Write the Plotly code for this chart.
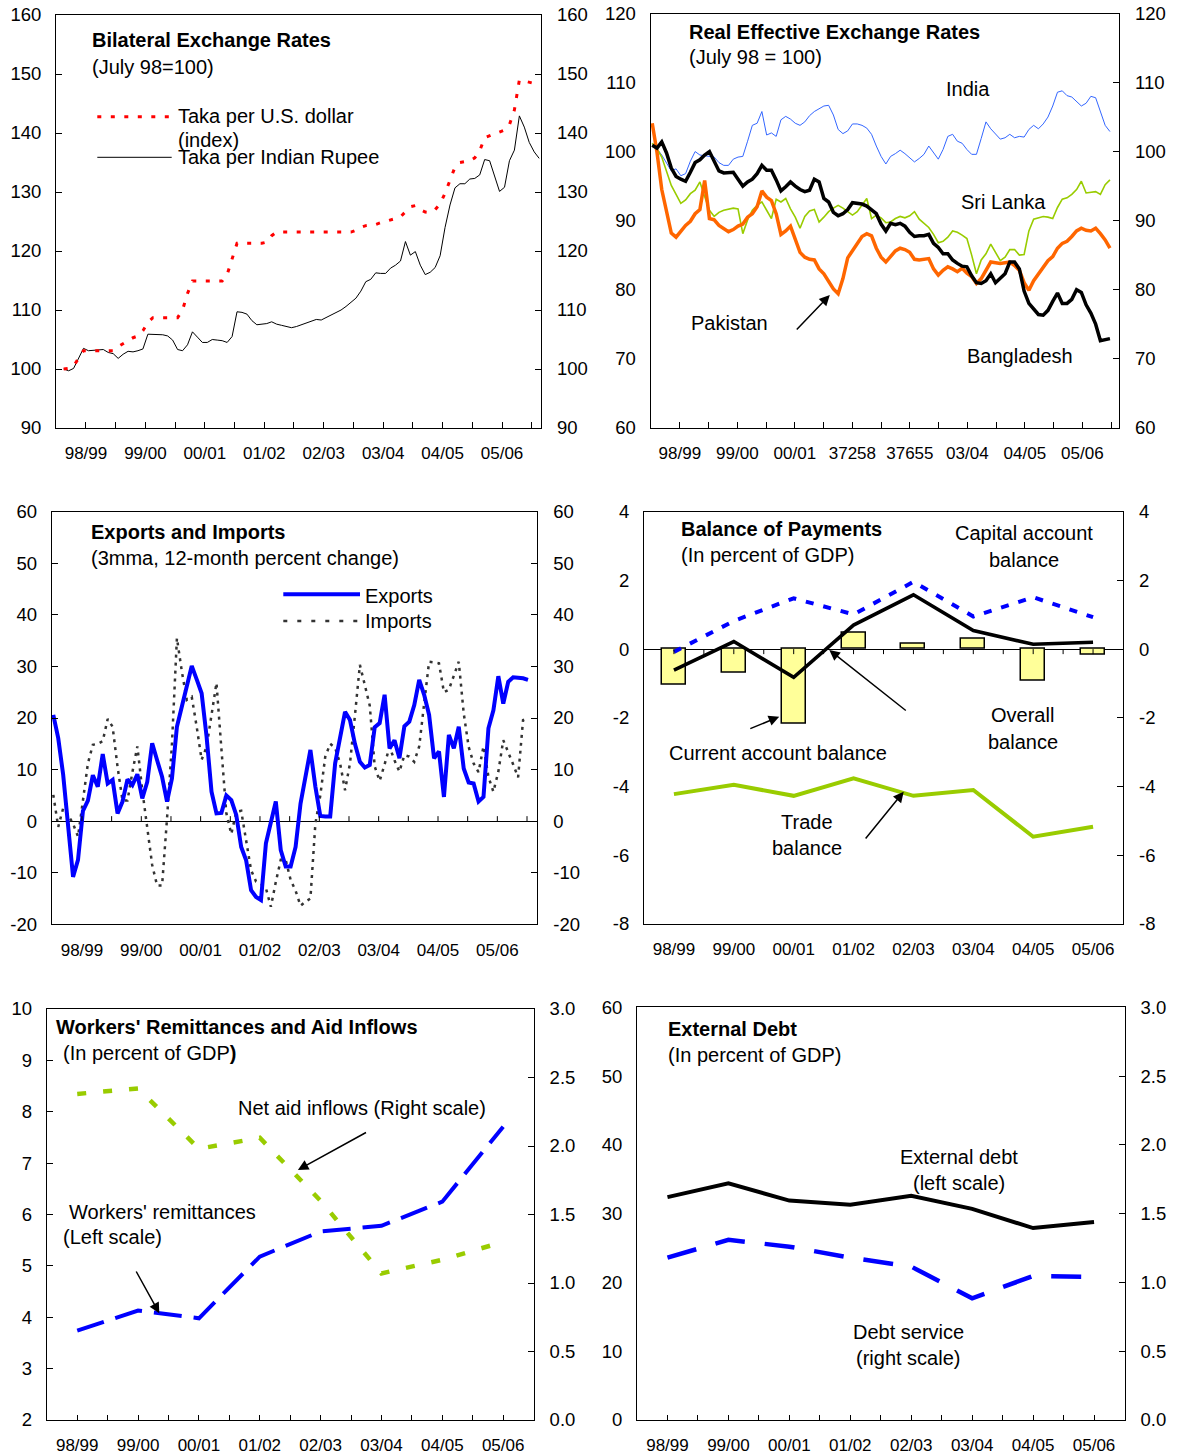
import plotly.graph_objects as go

W, H = 1181, 1456
FONT = "Liberation Sans, Arial, sans-serif"

# ---------------- data ----------------
months = list(range(97))  # monthly index, July 1998 onwards
year_labels = ["98/99", "99/00", "00/01", "01/02", "02/03", "03/04", "04/05", "05/06"]
reer_labels = ["98/99", "99/00", "00/01", "37258", "37655", "03/04", "04/05", "05/06"]
fiscal_years = ["98/99", "99/00", "00/01", "01/02", "02/03", "03/04", "04/05", "05/06"]

taka_usd = [100.0, 100.1, 100.5, 101.8, 103.1, 103.1, 103.1, 103.1, 103.1, 103.1,
            103.1, 103.8, 104.3, 104.9, 105.3, 105.6, 106.5, 107.9, 108.7, 108.7,
            108.7, 108.7, 108.7, 108.7, 110.0, 112.8, 114.9, 114.9, 114.9, 114.9,
            114.9, 114.9, 114.9, 116.0, 118.5, 121.3, 121.3, 121.3, 121.3, 121.3,
            121.3, 121.5, 122.6, 123.2, 123.2, 123.2, 123.2, 123.2, 123.2, 123.2,
            123.2, 123.2, 123.2, 123.2, 123.2, 123.2, 123.2, 123.2, 123.2, 123.5,
            124.0, 124.3, 124.4, 124.5, 124.8, 125.0, 125.3, 125.5, 125.8, 126.7,
            127.5, 127.7, 127.0, 126.6, 126.5, 127.0, 128.0, 129.8, 132.0, 134.2,
            135.0, 135.1, 135.3, 135.8, 137.0, 139.2, 139.5, 139.8, 140.1, 140.5,
            141.4, 143.9, 149.0, 148.8, 148.6, 148.3, 148.2]
taka_inr = [100.0, 99.7, 100.1, 101.8, 103.5, 103.1, 103.2, 103.3, 103.3, 102.8,
            102.6, 101.8, 102.5, 103.0, 102.9, 103.1, 103.4, 105.9, 105.9, 105.8,
            105.8, 105.6, 104.9, 103.3, 103.1, 104.1, 106.3, 105.4, 104.5, 104.5,
            105.0, 104.9, 104.8, 104.5, 105.5, 109.7, 109.6, 109.3, 108.2, 107.5,
            107.6, 107.7, 108.0, 107.6, 107.4, 107.2, 107.0, 107.2, 107.5, 107.8,
            108.2, 108.4, 108.3, 108.7, 109.1, 109.6, 110.0, 110.6, 111.3, 112.0,
            113.2, 114.8, 115.2, 116.3, 116.2, 116.2, 117.1, 117.6, 118.3, 121.6,
            119.3, 119.9, 117.6, 116.0, 116.4, 117.2, 119.2, 124.0, 127.8, 130.7,
            131.4, 131.4, 132.2, 132.3, 132.9, 135.5, 135.3, 132.8, 130.1, 130.8,
            135.3, 137.1, 142.9, 141.0, 138.4, 136.8, 135.7]

reer_bangladesh = [100.9, 100.5, 101.4, 99.8, 97.6, 96.4, 96.0, 95.7, 97.0, 98.4,
                   98.8, 99.5, 100.0, 98.5, 97.2, 96.9, 96.9, 97.0, 96.0, 95.0,
                   95.6, 96.0, 96.8, 98.0, 97.3, 97.3, 95.9, 94.3, 94.9, 95.6,
                   95.0, 94.5, 94.2, 94.4, 96.0, 95.6, 93.2, 92.7, 91.2, 90.7,
                   91.0, 91.6, 92.6, 92.5, 92.4, 92.1, 91.5, 91.0, 89.5, 88.5,
                   89.6, 89.4, 89.6, 89.2, 88.3, 87.7, 87.8, 87.8, 88.0, 86.7,
                   86.1, 85.2, 85.2, 84.3, 83.8, 83.4, 83.3, 82.0, 81.0, 80.9,
                   81.3, 82.3, 81.0, 81.6, 82.3, 84.0, 84.0, 83.0, 79.8, 78.0,
                   77.2, 76.4, 76.3, 77.0, 78.3, 79.5, 78.0, 78.0, 78.6, 80.0,
                   79.6, 77.8, 76.6, 75.0, 72.6, 72.7, 72.9]
reer_pakistan = [104.1, 99.9, 94.5, 91.2, 88.2, 87.6, 88.4, 89.3, 89.9, 91.0,
                 91.6, 95.8, 90.3, 90.1, 89.3, 88.8, 88.4, 88.7, 89.2, 89.5,
                 90.5, 91.0, 92.0, 94.3, 93.4, 92.9, 91.0, 88.0, 88.5, 89.2,
                 87.4, 85.4, 84.7, 84.4, 84.3, 83.0, 82.3, 81.2, 80.1, 79.4,
                 81.6, 84.6, 85.6, 86.8, 87.7, 88.1, 87.8, 86.0, 84.7, 84.0,
                 84.8, 85.6, 86.0, 85.8, 85.4, 84.4, 84.3, 84.4, 84.5, 83.0,
                 82.1, 82.8, 83.3, 83.0, 82.6, 83.1, 82.4, 81.9, 80.9, 81.6,
                 82.8, 84.0, 83.9, 83.8, 83.9, 84.0, 83.5, 82.8, 81.0, 79.9,
                 81.3, 82.2, 83.2, 84.2, 84.8, 86.0, 86.7, 87.0, 87.7, 88.5,
                 88.9, 88.6, 88.5, 88.9, 88.1, 87.2, 86.0]
reer_srilanka = [101.2, 100.4, 99.2, 97.1, 95.1, 93.8, 92.5, 93.0, 93.9, 94.4,
                 95.6, 93.5, 91.5, 90.6, 91.2, 91.5, 91.6, 91.8, 91.7, 88.1,
                 90.1, 91.5, 92.2, 92.7, 91.5, 90.3, 93.1, 92.7, 93.2, 91.7,
                 90.5, 88.9, 90.6, 91.4, 91.6, 89.8, 90.5, 91.3, 91.8, 92.2,
                 91.8, 91.3, 90.8, 91.3, 92.2, 93.2, 90.3, 90.8, 90.4, 89.7,
                 89.8, 90.3, 90.6, 90.4, 90.7, 91.3, 90.2, 89.6, 89.0, 88.0,
                 86.8, 87.0, 87.6, 88.5, 88.3, 87.9, 87.4, 85.0, 82.3, 84.3,
                 85.2, 86.6, 85.3, 84.2, 84.7, 85.8, 85.8, 85.0, 85.1, 88.5,
                 90.2, 90.4, 90.6, 90.5, 90.3, 91.9, 93.1, 93.3, 93.8, 94.5,
                 95.7, 94.0, 94.1, 94.2, 93.8, 95.2, 95.9]
reer_india = [100.9, 100.4, 99.5, 98.3, 97.2, 97.5, 96.5, 96.8, 98.6, 100.0,
              99.5, 99.4, 99.3, 99.2, 98.4, 98.0, 98.0, 98.9, 99.2, 99.3,
              101.5, 103.8, 104.1, 105.8, 102.4, 102.7, 102.2, 104.6, 105.1, 104.7,
              104.1, 103.8, 104.3, 105.2, 105.8, 106.2, 106.6, 106.7, 105.3, 103.2,
              102.6, 103.0, 104.0, 104.0, 103.8, 103.4, 102.5, 100.8, 99.3, 98.2,
              99.3, 99.7, 100.2, 99.7, 99.1, 98.5, 99.0, 99.6, 100.8, 99.8,
              98.9, 100.3, 102.2, 102.5, 101.5, 101.2, 100.3, 99.6, 99.6, 101.9,
              104.3, 103.3, 102.6, 101.8, 102.0, 102.5, 102.0, 102.2, 102.1, 103.2,
              103.8, 103.3, 104.0, 105.0, 106.6, 108.6, 108.8, 108.1, 107.9, 107.3,
              106.6, 107.0, 108.0, 107.8, 105.7, 103.8, 102.9]

exports = [20.6, 16.1, 9.0, 0.0, -10.8, -7.5, 2.0, 4.0, 8.9, 6.7,
           13.0, 7.3, 8.0, 1.5, 3.8, 8.1, 7.0, 9.1, 4.4, 7.6,
           15.1, 11.8, 8.6, 3.8, 8.3, 18.3, 22.5, 26.0, 30.1, 27.5,
           24.8, 16.4, 5.7, 1.5, 1.6, 5.0, 4.1, 1.2, -5.0, -7.6,
           -13.4, -14.7, -15.3, -4.3, -0.1, 3.8, -5.6, -8.8, -8.8, -5.0,
           3.4, 8.5, 13.8, 6.7, 1.0, 0.9, 0.9, 11.2, 16.0, 21.2,
           19.6, 15.0, 11.5, 10.4, 10.9, 18.2, 19.0, 24.5, 14.1, 15.7,
           12.2, 18.4, 19.3, 22.5, 27.4, 24.5, 20.6, 12.2, 13.5, 4.7,
           16.7, 14.1, 18.3, 10.2, 7.5, 7.3, 3.8, 4.7, 18.0, 21.5,
           28.1, 22.8, 27.0, 27.9, 27.8, 27.7, 27.4]
imports = [5.1, -1.1, 2.5, 1.2, -0.5, -3.0, 4.0, 11.2, 14.8, 15.0,
           15.5, 19.8, 18.3, 10.5, 4.0, 4.0, 9.5, 14.5, 6.0, -1.5,
           -8.5, -12.5, -12.5, 0.5, 15.0, 35.5, 29.0, 23.5, 24.1, 18.3,
           11.9, 14.4, 20.9, 26.8, 14.0, 1.5, -2.5, 1.8, 2.0, -4.0,
           -9.5, -11.7, -12.2, -13.0, -16.6, -11.8, -7.5, -7.5, -11.4, -13.5,
           -16.4, -15.6, -15.0, -0.5, 5.0, 12.5, 15.0, 14.2, 11.2, 6.0,
           11.2, 20.5, 30.3, 26.4, 22.4, 10.6, 7.8, 11.0, 14.4, 11.8,
           9.6, 12.8, 12.5, 11.5, 14.5, 22.8, 30.9, 30.8, 30.6, 25.0,
           25.5, 28.2, 30.9, 20.9, 14.4, 11.2, 9.5, 14.5, 8.6, 5.7,
           9.6, 15.7, 13.5, 11.0, 8.5, 19.6, 20.0]

current_account = [-1.04, -0.70, -2.16, 0.49, 0.15, 0.30, -0.92, -0.15]
overall_balance = [-0.61, 0.22, -0.82, 0.70, 1.58, 0.54, 0.14, 0.20]
capital_account = [-0.08, 0.82, 1.48, 1.01, 1.96, 0.95, 1.51, 0.93]
trade_balance = [-4.22, -3.95, -4.27, -3.76, -4.27, -4.10, -5.46, -5.17]

remittances = [3.74, 4.13, 3.98, 5.18, 5.67, 5.78, 6.25, 7.71]
net_aid = [2.38, 2.42, 1.98, 2.06, 1.60, 1.07, 1.17, 1.30]

external_debt = [32.4, 34.4, 31.9, 31.3, 32.6, 30.7, 27.9, 28.8]
debt_service = [1.18, 1.31, 1.26, 1.18, 1.115, 0.885, 1.047, 1.04]

p1_yticks = [90, 100, 110, 120, 130, 140, 150, 160]
p2_yticks = [60, 70, 80, 90, 100, 110, 120]
p3_yticks = [-20, -10, 0, 10, 20, 30, 40, 50, 60]
p4_yticks = [-8, -6, -4, -2, 0, 2, 4]
p5_left_ticks = [2, 3, 4, 5, 6, 7, 8, 9, 10]
pct_right_ticks = [0.0, 0.5, 1.0, 1.5, 2.0, 2.5, 3.0]
p6_left_ticks = [0, 10, 20, 30, 40, 50, 60]

# ---------------- helpers ----------------
def xd(l, r):
    return [l / W, r / W]

def yd(t, b):
    return [1 - b / H, 1 - t / H]

def px(x):
    return x / W

def py(y):
    return 1 - y / H

def txt(vals, fmt=None):
    return [(fmt.format(v) if fmt else str(v)) for v in vals]

base = dict(showgrid=False, zeroline=False, showline=True, linecolor="black", linewidth=1,
            mirror=True, tickcolor="black", tickwidth=1, ticklen=6, automargin=False)
xfont = dict(family=FONT, size=17, color="black")
yfont = dict(family=FONT, size=18.5, color="black")


def xaxis(dom, rng, vals, texts, anchor, ticks="inside", ticklen=6):
    return dict(base, domain=dom, range=rng, tickvals=vals, ticktext=texts, ticks=ticks,
                ticklen=ticklen, anchor=anchor, tickfont=xfont, ticklabelstandoff=10, tickangle=0)


def yleft(dom, rng, vals, texts, anchor, ticks="inside", zero=False):
    return dict(base, domain=dom, range=rng, tickvals=vals, ticktext=texts, ticks=ticks,
                anchor=anchor, tickfont=yfont, ticklabelstandoff=10, zeroline=zero,
                zerolinecolor="black", zerolinewidth=1)


def yright(over, rng, vals, texts, anchor):
    return dict(showgrid=False, zeroline=False, showline=False, overlaying=over, side="right",
                anchor=anchor, range=rng, tickvals=vals, ticktext=texts, ticks="inside",
                ticklen=6, tickcolor="black", tickfont=yfont, ticklabelstandoff=15,
                automargin=False)


fig = go.Figure()

def line(x, y, xa, ya, color, width, dash="solid"):
    fig.add_trace(go.Scatter(x=x, y=y, xaxis=xa, yaxis=ya, mode="lines",
                             line=dict(color=color, width=width, dash=dash),
                             hoverinfo="skip", showlegend=False))

def ghost(x, y, xa, ya):
    fig.add_trace(go.Scatter(x=x, y=y, xaxis=xa, yaxis=ya, mode="lines", opacity=0,
                             line=dict(width=0), hoverinfo="skip", showlegend=False))

cats = list(range(len(fiscal_years)))

# Panel 1
line(months, taka_inr, "x", "y", "black", 1)
line(months, taka_usd, "x", "y", "#FF0000", 3, "4px,9.5px")
ghost(months, taka_usd, "x", "y7")
# Panel 2
line(months, reer_india, "x2", "y2", "#3366FF", 1)
line(months, reer_srilanka, "x2", "y2", "#99CC00", 1.6)
line(months, reer_pakistan, "x2", "y2", "#FF6600", 3.5)
line(months, reer_bangladesh, "x2", "y2", "black", 3.5)
ghost(months, reer_india, "x2", "y8")
# Panel 3
line(months, imports, "x3", "y3", "#333333", 2.5, "3px,5px")
line(months, exports, "x3", "y3", "#0000FF", 4)
ghost(months, exports, "x3", "y9")
# Panel 4
fig.add_trace(go.Bar(x=cats, y=current_account, xaxis="x4", yaxis="y4", width=0.4,
                     marker=dict(color="#FFFF99", line=dict(color="black", width=1.5)),
                     hoverinfo="skip", showlegend=False))
line(cats, capital_account, "x4", "y4", "#0000FF", 4, "8px,10px")
line(cats, overall_balance, "x4", "y4", "black", 3.5)
line(cats, trade_balance, "x4", "y4", "#99CC00", 4)
ghost(cats, trade_balance, "x4", "y10")
# Panel 5
line(cats, remittances, "x5", "y5", "#0000FF", 4, "28px,12px")
line(cats, net_aid, "x5", "y11", "#99CC00", 4.5, "9px,17px")
# Panel 6
line(cats, external_debt, "x6", "y6", "black", 4)
line(cats, debt_service, "x6", "y12", "#0000FF", 4.5, "30px,20px")

# ---------------- axes ----------------
p1_dom = (xd(56, 541), yd(15, 428))
p2_dom = (xd(650.5, 1119), yd(13.5, 427.7))
p3_dom = (xd(51.7, 537.3), yd(511.7, 924.3))
p4_dom = (xd(644, 1123), yd(511.7, 924))
p5_dom = (xd(46.8, 533.6), yd(1009, 1420))
p6_dom = (xd(637, 1124.5), yd(1007.3, 1420))

p1_tv = [4.5 + 6 * k for k in range(16)]
p2_tv = [5.8 + 6.03 * k for k in range(16)]
half_tt = lambda labels: [labels[k // 2] if k % 2 == 0 else "" for k in range(16)]
p3_tv = [5.8 + 6 * k for k in range(16)]
cat_tv = [0.5 * k for k in range(15)]
cat_tt = [fiscal_years[k // 2] if k % 2 == 0 else "" for k in range(15)]

layout = dict(template="none", width=W, height=H, margin=dict(l=0, r=0, t=0, b=0, pad=0),
              autosize=False,
              paper_bgcolor="white", plot_bgcolor="white", showlegend=False,
              font=dict(family=FONT, color="black", size=20), bargap=0)

layout["xaxis"] = xaxis(p1_dom[0], [-1.55, 96.37], p1_tv, half_tt(year_labels), "y")
layout["yaxis"] = yleft(p1_dom[1], [90, 160], p1_yticks, txt(p1_yticks), "x")
layout["yaxis7"] = yright("y", [90, 160], p1_yticks, txt(p1_yticks), "x")

layout["xaxis2"] = xaxis(p2_dom[0], [-0.36, 97.9], p2_tv, half_tt(reer_labels), "y2")
layout["yaxis2"] = yleft(p2_dom[1], [60, 120], p2_yticks, txt(p2_yticks), "x2", ticks="")
layout["yaxis8"] = yright("y2", [60, 120], p2_yticks, txt(p2_yticks), "x2")

layout["xaxis3"] = xaxis(p3_dom[0], [-0.32, 97.88], [5.8 + 12 * k for k in range(8)],
                         year_labels, "y3", ticks="")
layout["yaxis3"] = yleft(p3_dom[1], [-20, 60], p3_yticks, txt(p3_yticks), "x3", zero=True)
layout["yaxis9"] = yright("y3", [-20, 60], p3_yticks, txt(p3_yticks), "x3")

layout["xaxis4"] = xaxis(p4_dom[0], [-0.5, 7.5], cats, fiscal_years, "y4", ticks="")
layout["yaxis4"] = yleft(p4_dom[1], [-8, 4], p4_yticks, txt(p4_yticks), "x4", ticks="", zero=True)
layout["yaxis10"] = yright("y4", [-8, 4], p4_yticks, txt(p4_yticks), "x4")

layout["xaxis5"] = xaxis(p5_dom[0], [-0.5, 7.5], cat_tv, cat_tt, "y5", ticklen=5)
layout["yaxis5"] = yleft(p5_dom[1], [2, 10], p5_left_ticks, txt(p5_left_ticks), "x5")
layout["yaxis11"] = yright("y5", [0, 3], pct_right_ticks, txt(pct_right_ticks, "{:.1f}"), "x5")

layout["xaxis6"] = xaxis(p6_dom[0], [-0.5, 7.5], cat_tv, cat_tt, "y6", ticklen=5)
layout["yaxis6"] = yleft(p6_dom[1], [0, 60], p6_left_ticks, txt(p6_left_ticks), "x6", ticks="")
layout["yaxis12"] = yright("y6", [0, 3], pct_right_ticks, txt(pct_right_ticks, "{:.1f}"), "x6")

# ---------------- shapes ----------------
shapes = []
# legend samples
shapes.append(dict(type="line", xref="paper", yref="paper", x0=px(97.3), x1=px(171.7),
                   y0=py(116.7), y1=py(116.7), line=dict(color="#FF0000", width=3, dash="4px,9.5px")))
shapes.append(dict(type="line", xref="paper", yref="paper", x0=px(97.3), x1=px(171.7),
                   y0=py(157.3), y1=py(157.3), line=dict(color="black", width=1)))
shapes.append(dict(type="line", xref="paper", yref="paper", x0=px(283.3), x1=px(360),
                   y0=py(594.3), y1=py(594.3), line=dict(color="#0000FF", width=4)))
shapes.append(dict(type="line", xref="paper", yref="paper", x0=px(283.3), x1=px(360),
                   y0=py(621), y1=py(621), line=dict(color="#333333", width=2.5, dash="4px,10px")))
# tick marks on zero lines
u3 = 5 * 80 / (924.3 - 511.7)
for t in p3_tv:
    shapes.append(dict(type="line", xref="x3", yref="y3", x0=t, x1=t, y0=0, y1=u3,
                       line=dict(color="black", width=1)))
u4 = 5 * 12 / (924 - 511.7)
for t in cat_tv:
    shapes.append(dict(type="line", xref="x4", yref="y4", x0=t, x1=t, y0=0, y1=-u4,
                       line=dict(color="black", width=1)))
layout["shapes"] = shapes

# ---------------- annotations ----------------
ann = []

def label(text, x, y, anchor="left", size=20):
    ann.append(dict(text=text, x=px(x), y=py(y), xref="paper", yref="paper", showarrow=False,
                    xanchor=anchor, yanchor="middle", font=dict(family=FONT, size=size, color="black")))

def arrow(hx, hy, tx, ty):
    ann.append(dict(text="", x=px(hx), y=py(hy), xref="paper", yref="paper", showarrow=True,
                    ax=tx - hx, ay=ty - hy, arrowhead=2, arrowsize=1.4, arrowwidth=1.5,
                    arrowcolor="black", standoff=0))

label("<b>Bilateral Exchange Rates</b>", 89.5, 40)
label("(July 98=100)", 89.5, 66.7)
label("Taka per U.S. dollar", 176, 116)
label("(index)", 176, 140)
label("Taka per Indian Rupee", 176, 156.7)

label("<b>Real Effective Exchange Rates</b>", 686.5, 31.7)
label("(July 98 = 100)", 686.5, 57.3)
label("India", 968.3, 89.3, "center")
label("Sri Lanka", 1003.5, 201.7, "center")
label("Pakistan", 729.7, 322.7, "center")
label("Bangladesh", 1020, 356, "center")
arrow(829.8, 295, 795.3, 331)

label("<b>Exports and Imports</b>", 88.5, 531.7)
label("(3mma, 12-month percent change)", 88.5, 557.7)
label("Exports", 362.5, 596)
label("Imports", 362.5, 621)

label("<b>Balance of Payments</b>", 678.5, 529.3)
label("(In percent of GDP)", 678.5, 555)
label("Capital account", 1024.3, 533.3, "center")
label("balance", 1024.3, 560, "center")
label("Overall", 1022.5, 715, "center")
label("balance", 1022.5, 741.7, "center")
label("Current account balance", 777.8, 753.3, "center")
label("Trade", 807.1, 822.3, "center")
label("balance", 807.1, 848.3, "center")
arrow(779.2, 716.7, 748.8, 729.3)
arrow(829.3, 650, 907.3, 711.7)
arrow(903.7, 791.7, 864.4, 840)

label("<b>Workers' Remittances and Aid Inflows</b>", 54, 1026.7)
label("(In percent of GDP<b>)</b>", 60.5, 1053.3)
label("Net aid inflows (Right scale)", 235.5, 1108.3)
label("Workers' remittances", 67, 1211.7)
label("(Left scale)", 61.3, 1237.3)
arrow(297.9, 1170, 367.5, 1131.7)
arrow(159.3, 1313.3, 135.4, 1270)

label("<b>External Debt</b>", 665.8, 1029.3)
label("(In percent of GDP)", 665.8, 1055)
label("External debt", 958.8, 1156.7, "center")
label("(left scale)", 959, 1182.7, "center")
label("Debt service", 908.1, 1332.3, "center")
label("(right scale)", 907.9, 1358.3, "center")

layout["annotations"] = ann
fig.update_layout(**layout)

fig.write_html("out.html", config={"displayModeBar": False},
               post_script="document.body.style.margin='0px';")
